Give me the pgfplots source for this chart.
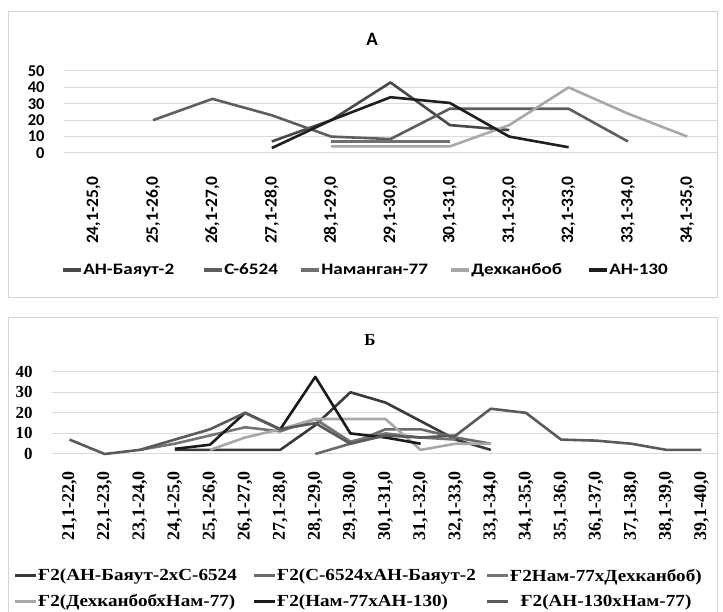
\documentclass[border=0pt]{standalone}
\usepackage{fontspec}
\setmainfont{Liberation Serif}
\newfontfamily\calfont{Carlito}
\newfontfamily\calwide{Carlito}[FakeStretch=1.2]
\newfontfamily\tnrfont{Liberation Serif}
\newfontfamily\tnrwide{Liberation Serif}[FakeStretch=1.13]
\usepackage{pgfplots}
\pgfplotsset{compat=1.18}

\definecolor{frame}{HTML}{D4D4D4}
\definecolor{grid}{HTML}{D9D9D9}
\definecolor{aA}{HTML}{484848}
\definecolor{aB}{HTML}{5E5E5E}
\definecolor{aC}{HTML}{707070}
\definecolor{aD}{HTML}{A8A8A8}
\definecolor{aE}{HTML}{1E1E1E}
\definecolor{bA}{HTML}{3A3A3A}
\definecolor{bB}{HTML}{6A6A6A}
\definecolor{bC}{HTML}{747474}
\definecolor{bD}{HTML}{A8A8A8}
\definecolor{bE}{HTML}{1A1A1A}
\definecolor{bF}{HTML}{5A5A5A}

\pgfplotsset{
  excel/.style={
    scale only axis, clip=false,
    axis line style={draw=none},
    major tick length=0pt,
    /pgf/number format/assume math mode=true,
    ymajorgrids, grid style={line width=1bp, color=grid},
    every axis plot/.append style={line width=2.6bp, line join=round, mark=none},
    legend style={draw=none, fill=none, legend columns=-1,
      nodes={inner sep=0pt},
      /tikz/every odd column/.append style={column sep=2bp}},
  },
}

\begin{document}
\begin{tikzpicture}[x=1bp,y=1bp]
\path[use as bounding box] (0,0) rectangle (723,612);
\draw[frame, line width=1bp] (8,600) rectangle (717,314);
\draw[frame, line width=1bp] (8,-5) -- (8,294) -- (717,294) -- (717,-5);

% ---------- A ----------
\node[font=\calfont\bfseries\fontsize{19}{19}\selectfont] at (372,573) {А};
\begin{axis}[excel,
  at={(64bp,459bp)}, anchor=south west,
  width=653bp, height=82bp,
  xmin=-0.5, xmax=10.5, ymin=0, ymax=50,
  ytick={0,10,...,50},
  xtick={0,...,10},
  xticklabels={{24,1-25,0},{25,1-26,0},{26,1-27,0},{27,1-28,0},{28,1-29,0},{29,1-30,0},{30,1-31,0},{31,1-32,0},{32,1-33,0},{33,1-34,0},{34,1-35,0}},
  xticklabel style={rotate=90, anchor=east, font=\calfont\bfseries\fontsize{17.5}{17.5}\selectfont},
  xticklabel shift=20bp,
  yticklabel style={font=\calfont\bfseries\fontsize{16.5}{16.5}\selectfont},
  yticklabel shift=16bp,
  legend style={at={(-0.006,-1.427)}, anchor=west,
    font=\calwide\bfseries\fontsize{16}{16}\selectfont},
  legend image code/.code={\fill[#1, draw=none] (0bp,-1.7bp) rectangle (18bp,1.7bp);},
]
\addplot[aA] coordinates {(3,7) (4,20) (5,43) (6,17) (7,14)};
\addlegendentry{\makebox[121bp][l]{АН-Баяут-2}}
\addplot[aB] coordinates {(1,20) (2,33) (3,23) (4,10) (5,8.5) (6,27) (7,27) (8,27) (9,7)};
\addlegendentry{\makebox[77bp][l]{С-6524}}
\addplot[aC] coordinates {(4,7) (5,7) (6,7)};
\addlegendentry{\makebox[130bp][l]{Наманган-77}}
\addplot[aD] coordinates {(4,4) (5,4) (6,4) (7,17) (8,40) (9,24) (10,10)};
\addlegendentry{\makebox[118bp][l]{Дехканбоб}}
\addplot[aE] coordinates {(3,3) (4,20) (5,34) (6,30.5) (7,10) (8,3.5)};
\addlegendentry{АН-130}
\end{axis}

% ---------- B ----------
\node[font=\tnrfont\bfseries\fontsize{17}{17}\selectfont] at (370,272) {Б};
\begin{axis}[excel,
  at={(52bp,158bp)}, anchor=south west,
  width=667bp, height=82.3bp,
  xmin=-0.5, xmax=18.5, ymin=0, ymax=40,
  ytick={0,10,...,40},
  xtick={0,...,18},
  xticklabels={{21,1-22,0},{22,1-23,0},{23,1-24,0},{24,1-25,0},{25,1-26,0},{26,1-27,0},{27,1-28,0},{28,1-29,0},{29,1-30,0},{30,1-31,0},{31,1-32,0},{32,1-33,0},{33,1-34,0},{34,1-35,0},{35,1-36,0},{36,1-37,0},{37,1-38,0},{38,1-39,0},{39,1-40,0}},
  xticklabel style={rotate=90, anchor=east, font=\tnrfont\bfseries\fontsize{18}{18}\selectfont},
  xticklabel shift=14bp,
  yticklabel style={font=\tnrfont\bfseries\fontsize{17}{17}\selectfont},
  yticklabel shift=16bp,
  legend style={at={(-0.06,-1.37)}, anchor=north west,
    legend columns=3, row sep=12bp,
    font=\tnrwide\bfseries\fontsize{17}{17}\selectfont},
  legend image code/.code={\fill[#1, draw=none] (0bp,-1.7bp) rectangle (21bp,1.7bp);},
]
\addplot[bA] coordinates {(3,2) (4,2) (5,2) (6,2) (7,14) (8,30) (9,25) (10,16) (11,7) (12,2)};
\addlegendentry{\makebox[216bp][l]{Ғ2(АН-Баяут-2хС-6524}}
\addplot[bB] coordinates {(7,0) (8,5) (9,12) (10,12) (11,8) (12,5)};
\addlegendentry{\makebox[210bp][l]{Ғ2(С-6524хАН-Баяут-2}}
\addplot[bC] coordinates {(2,2) (3,5) (4,9) (5,13) (6,11) (7,17) (8,6) (9,10) (10,8) (11,7)};
\addlegendentry{Ғ2Нам-77хДехканбоб)}
\addplot[bD] coordinates {(4,2) (5,8) (6,12) (7,17) (8,17) (9,17) (10,2) (11,5) (12,5)};
\addlegendentry{\makebox[216bp][l]{Ғ2(ДехканбобхНам-77)}}
\addplot[bE] coordinates {(3,2.5) (4,4.5) (5,20) (6,12) (7,37.5) (8,10) (9,8) (10,5)};
\addlegendentry{\makebox[210bp][l]{Ғ2(Нам-77хАН-130)}}
\addplot[bF] coordinates {(0,7) (1,0) (2,2) (3,7) (4,12) (5,20) (6,12) (7,15) (8,5) (9,9) (10,8) (11,9) (12,22) (13,20) (14,7) (15,6.5) (16,5) (17,2) (18,2)};
\addlegendentry{Ғ2(АН-130хНам-77)}
\end{axis}
\end{tikzpicture}
\end{document}
